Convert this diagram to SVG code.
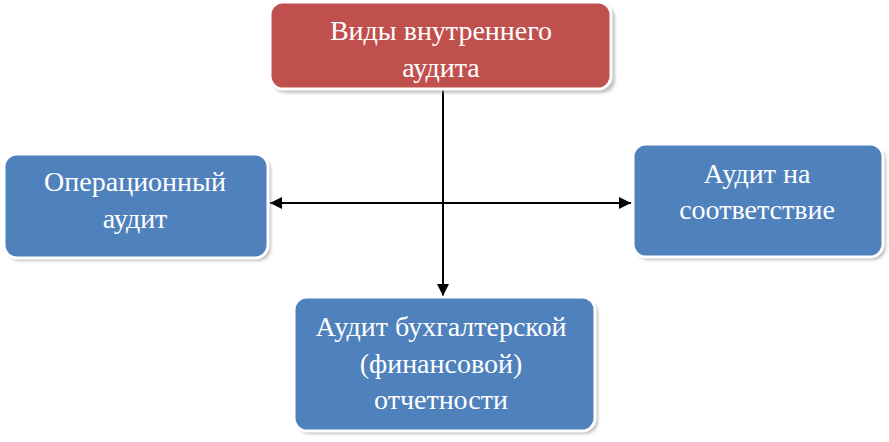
<svg xmlns="http://www.w3.org/2000/svg" width="889" height="442" viewBox="0 0 889 442">
<defs>
<style>
.sh{fill:#9a9a9a;opacity:0.6}
.bd{stroke:#ffffff;stroke-width:3}
.red{fill:#C0504D}
.blue{fill:#4F81BD}
.t{font-family:"Liberation Serif","Times New Roman",serif;font-size:28px;fill:#ffffff;text-anchor:middle}
.c{stroke:#000;stroke-width:2;fill:none}
</style>
<marker id="ah" viewBox="0 0 10 10" refX="10" refY="5" markerWidth="6" markerHeight="6" orient="auto-start-reverse" markerUnits="strokeWidth">
<path d="M0,0 L10,5 L0,10 z" fill="#000"/>
</marker>
<filter id="blur" x="-10%" y="-10%" width="120%" height="120%"><feGaussianBlur stdDeviation="1.5"/></filter>
</defs>
<g id="connectors">
<line class="c" x1="443" y1="90" x2="443" y2="296" marker-end="url(#ah)"/>
<line class="c" x1="270" y1="203" x2="631" y2="203" marker-start="url(#ah)" marker-end="url(#ah)"/>
</g>
<g id="node-top">
<rect class="sh" x="273" y="5" width="342" height="88" rx="13" filter="url(#blur)"/>
<rect class="red bd" x="270" y="2" width="341" height="87" rx="13"/>
<text class="t" x="441" y="40">Виды внутреннего</text>
<text class="t" x="441" y="77">аудита</text>
</g>
<g id="node-left">
<rect class="sh" x="7" y="157" width="264" height="104" rx="13" filter="url(#blur)"/>
<rect class="blue bd" x="4" y="154" width="264" height="104" rx="13"/>
<text class="t" x="135" y="191">Операционный</text>
<text class="t" x="135" y="228">аудит</text>
</g>
<g id="node-right">
<rect class="sh" x="636" y="147" width="250" height="113" rx="13" filter="url(#blur)"/>
<rect class="blue bd" x="633" y="144" width="250" height="113" rx="13"/>
<text class="t" x="757" y="183">Аудит на</text>
<text class="t" x="757" y="219">соответствие</text>
</g>
<g id="node-bottom">
<rect class="sh" x="297" y="300" width="301" height="134" rx="13" filter="url(#blur)"/>
<rect class="blue bd" x="294" y="297" width="301" height="134" rx="13"/>
<text class="t" x="441" y="336">Аудит бухгалтерской</text>
<text class="t" x="441" y="373">(финансовой)</text>
<text class="t" x="441" y="409">отчетности</text>
</g>
</svg>
